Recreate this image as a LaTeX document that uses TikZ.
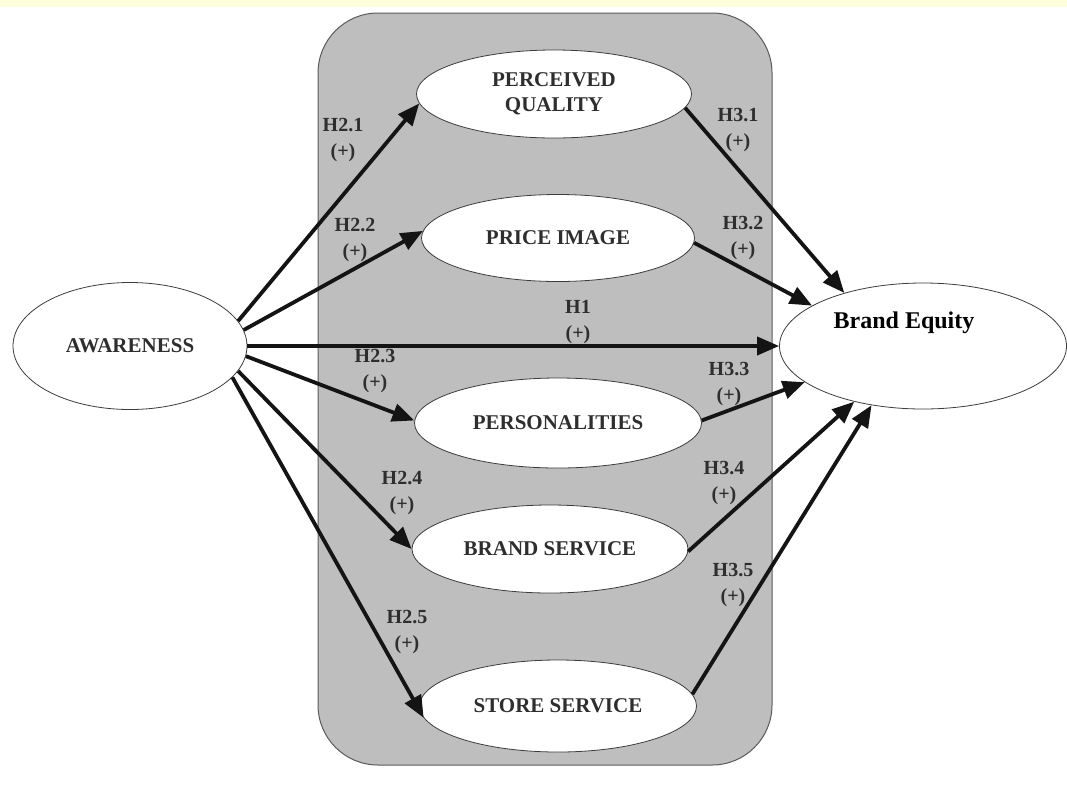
\documentclass[tikz,border=0pt]{standalone}
\usepackage{fontspec}
\setmainfont{Liberation Serif}
\usetikzlibrary{shapes.geometric,arrows.meta}
\definecolor{bandyellow}{HTML}{FFFEDC}
\definecolor{boxgray}{HTML}{BEBEBE}
\definecolor{boxedge}{HTML}{5A5A5A}
\definecolor{ellipseedge}{HTML}{3C3C3C}
\definecolor{txtgray}{HTML}{2E2E2E}
\tikzset{
  construct/.style={ellipse, draw=ellipseedge, line width=0.8pt, fill=white,
    font=\fontsize{21}{25}\selectfont\bfseries, text=txtgray, inner sep=0pt, align=center},
  link/.style={-{Triangle[length=22pt,width=18pt]}, line width=3.8pt, draw=black!92},
  hyp/.style={font=\fontsize{20}{26}\selectfont\bfseries, text=txtgray, align=center, inner sep=0pt}
}
\begin{document}
\begin{tikzpicture}[x=1pt,y=-1pt]
\useasboundingbox (0,0) rectangle (1067,788);
\fill[bandyellow] (0,0) rectangle (1067,7);
\draw[boxedge, fill=boxgray, line width=1pt, rounded corners=60pt] (318,13) rectangle (772,765);

\node[construct, minimum width=234pt, minimum height=127pt] (aw) at (130,346) {AWARENESS};
\node[construct, minimum width=275pt, minimum height=88pt] (pq) at (554,94) {PERCEIVED\\QUALITY};
\node[construct, minimum width=273pt, minimum height=87pt] (price) at (558,238) {PRICE IMAGE};
\node[construct, minimum width=287pt, minimum height=90pt] (pers) at (558,423) {PERSONALITIES};
\node[construct, minimum width=276pt, minimum height=88pt] (bs) at (550,549) {BRAND SERVICE};
\node[construct, minimum width=277pt, minimum height=92pt] (ss) at (558,706) {STORE SERVICE};
\node[construct, minimum width=287pt, minimum height=126pt] (be) at (923,346) {};
\node[font=\fontsize{24}{28}\selectfont\bfseries, text=black, inner sep=0pt] (betext) at (904,323) {Brand Equity};

\draw[link] (aw.13) -- (pq.184);
\draw[link] (aw.8) -- (price.177);
\draw[link] (aw.0) -- (be.180);
\draw[link] (aw.-5) -- (pers.179);
\draw[link] (aw.-13) -- (bs.180);
\draw[link] (aw.-17) -- (ss.185);
\draw[link] (pq.354) -- (be.146);
\draw[link] (price.358) -- (be.160);
\draw[link] (pers.1) -- (be.197);
\draw[link] (bs.359) -- (be.219);
\draw[link] (ss.5) -- (be.229);

\node[hyp] (l21) at (343,140) {H2.1\\(+)};
\node[hyp] (l22) at (355,240) {H2.2\\(+)};
\node[hyp] (l1) at (578,322) {H1\\(+)};
\node[hyp] (l23) at (375,371) {H2.3\\(+)};
\node[hyp] (l24) at (402,493) {H2.4\\(+)};
\node[hyp] (l25) at (407,632) {H2.5\\(+)};
\node[hyp] (l31) at (738,130) {H3.1\\(+)};
\node[hyp] (l32) at (743,238) {H3.2\\(+)};
\node[hyp] (l33) at (729,384) {H3.3\\(+)};
\node[hyp] (l34) at (724,483) {H3.4\\(+)};
\node[hyp] (l35) at (733,585) {H3.5\\(+)};
\end{tikzpicture}
\end{document}
